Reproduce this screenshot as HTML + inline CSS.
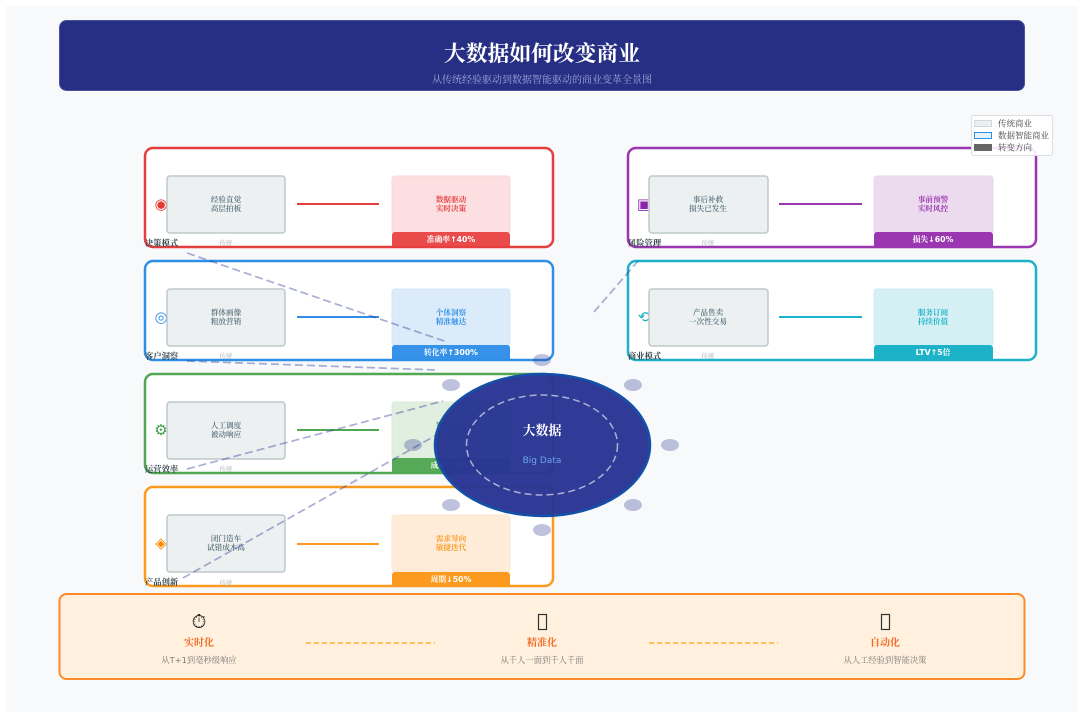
<!DOCTYPE html>
<html><head><meta charset="utf-8">
<style>
html,body{margin:0;padding:0;background:#fff;width:1084px;height:720px;overflow:hidden}
svg{display:block;filter:blur(.35px)}
text{font-family:"DejaVu Sans","Noto Serif CJK SC",serif}
.c{fill:#fff;stroke-width:2.5}
.l{fill:#ecf0f1;stroke:#bdc8cc;stroke-width:1.5}
.lt{font-size:7.6px;fill:#546e7a;text-anchor:middle;font-weight:600}
.rt{font-size:7.6px;text-anchor:middle;font-weight:700}
.b{font-size:7.8px;fill:#fff;text-anchor:middle;font-weight:700}
.h{font-size:8.3px;fill:#37474f;font-weight:700}
.tr{font-size:6.5px;fill:#a9b2b6;text-anchor:middle}
.i{font-size:15px;text-anchor:middle}
.s{fill:#283593;opacity:.3}
.d{stroke:#283593;stroke-opacity:.4;stroke-width:1.7;stroke-dasharray:8 4;fill:none}
.bi{font-size:19px;text-anchor:middle;fill:#222}
.bt{font-size:10px;text-anchor:middle;font-weight:700;fill:#ee6a24}
.bs{font-size:8.3px;text-anchor:middle;fill:#777}
</style></head><body>
<svg width="1084" height="720" viewBox="0 0 1084 720" xmlns="http://www.w3.org/2000/svg">
<rect x="6" y="6" width="1072" height="706" fill="#f8f9fb"/>
<rect x="59.5" y="20.5" width="965" height="70" rx="7" fill="#272f84" stroke="#4a52a0" stroke-width="1"/>
<text x="542" y="61" font-size="21.8" font-weight="700" fill="#fff" text-anchor="middle">大数据如何改变商业</text>
<text x="542" y="83" font-size="10" fill="#9fa8da" text-anchor="middle">从传统经验驱动到数据智能驱动的商业变革全景图</text>

<!-- red -->
<g>
<rect class="c" x="145" y="148" width="408" height="99" rx="8" stroke="#e53e3e"/>
<text class="i" x="161" y="209" fill="#e53935">◉</text>
<rect class="l" x="167" y="176" width="118" height="57" rx="3"/>
<text class="lt" x="226" y="202">经验直觉</text><text class="lt" x="226" y="211">高层拍板</text>
<line x1="297" y1="204" x2="379" y2="204" stroke="#e53e3e" stroke-width="2"/>
<rect x="392" y="176" width="118" height="57" rx="3" fill="#fcdfe0" stroke="#fbd5d6"/>
<text class="rt" x="451" y="202" fill="#e53e3e">数据驱动</text><text class="rt" x="451" y="211" fill="#e53e3e">实时决策</text>
<path d="M392 235a3 3 0 0 1 3-3h112a3 3 0 0 1 3 3v11h-118z" fill="#e94b4b"/>
<text class="b" x="451" y="242">准确率↑40%</text>
<text class="h" x="145" y="246">决策模式</text>
<text class="tr" x="226" y="245">传统</text>
</g>
<!-- blue -->
<g>
<rect class="c" x="145" y="261" width="408" height="99" rx="8" stroke="#2f8fe6"/>
<text class="i" x="161" y="322" fill="#2f8fe6">◎</text>
<rect class="l" x="167" y="289" width="118" height="57" rx="3"/>
<text class="lt" x="226" y="315">群体画像</text><text class="lt" x="226" y="324">粗放营销</text>
<line x1="297" y1="317" x2="379" y2="317" stroke="#2f8fe6" stroke-width="2"/>
<rect x="392" y="289" width="118" height="57" rx="3" fill="#dcebfa" stroke="#d2e6f9"/>
<text class="rt" x="451" y="315" fill="#2f8fe6">个体洞察</text><text class="rt" x="451" y="324" fill="#2f8fe6">精准触达</text>
<path d="M392 348a3 3 0 0 1 3-3h112a3 3 0 0 1 3 3v11h-118z" fill="#3592e8"/>
<text class="b" x="451" y="355">转化率↑300%</text>
<text class="h" x="145" y="359">客户洞察</text>
<text class="tr" x="226" y="358">传统</text>
</g>
<!-- green -->
<g>
<rect class="c" x="145" y="374" width="408" height="99" rx="8" stroke="#52a852"/>
<text class="i" x="161" y="435" fill="#43a047">⚙</text>
<rect class="l" x="167" y="402" width="118" height="57" rx="3"/>
<text class="lt" x="226" y="428">人工调度</text><text class="lt" x="226" y="437">被动响应</text>
<line x1="297" y1="430" x2="379" y2="430" stroke="#52a852" stroke-width="2"/>
<rect x="392" y="402" width="118" height="57" rx="3" fill="#e1efe1" stroke="#d8ebd8"/>
<text class="rt" x="451" y="428" fill="#43a047">智能调度</text><text class="rt" x="451" y="437" fill="#43a047">主动优化</text>
<path d="M392 461a3 3 0 0 1 3-3h112a3 3 0 0 1 3 3v11h-118z" fill="#56a956"/>
<text class="b" x="451" y="468">成本↓30%</text>
<text class="h" x="145" y="472">运营效率</text>
<text class="tr" x="226" y="471">传统</text>
</g>
<!-- orange -->
<g>
<rect class="c" x="145" y="487" width="408" height="99" rx="8" stroke="#fb9a1e"/>
<text class="i" x="161" y="548" fill="#fb8c00">◈</text>
<rect class="l" x="167" y="515" width="118" height="57" rx="3"/>
<text class="lt" x="226" y="541">闭门造车</text><text class="lt" x="226" y="550">试错成本高</text>
<line x1="297" y1="544" x2="379" y2="544" stroke="#fb9a1e" stroke-width="2"/>
<rect x="392" y="515" width="118" height="57" rx="3" fill="#feecd9" stroke="#fde7d0"/>
<text class="rt" x="451" y="541" fill="#fb9a1e">需求导向</text><text class="rt" x="451" y="550" fill="#fb9a1e">敏捷迭代</text>
<path d="M392 575a3 3 0 0 1 3-3h112a3 3 0 0 1 3 3v10h-118z" fill="#fb9a1e"/>
<text class="b" x="451" y="582">周期↓50%</text>
<text class="h" x="145" y="585">产品创新</text>
<text class="tr" x="226" y="585">传统</text>
</g>
<!-- purple -->
<g>
<rect class="c" x="628" y="148" width="408" height="99" rx="8" stroke="#9a37b0"/>
<text class="i" x="644" y="209" fill="#8e24aa">▣</text>
<rect class="l" x="649" y="176" width="119" height="57" rx="3"/>
<text class="lt" x="708" y="202">事后补救</text><text class="lt" x="708" y="211">损失已发生</text>
<line x1="779" y1="204" x2="862" y2="204" stroke="#9a37b0" stroke-width="2"/>
<rect x="874" y="176" width="119" height="57" rx="3" fill="#ecdbef" stroke="#e8d5ec"/>
<text class="rt" x="933" y="202" fill="#9a37b0">事前预警</text><text class="rt" x="933" y="211" fill="#9a37b0">实时风控</text>
<path d="M874 235a3 3 0 0 1 3-3h113a3 3 0 0 1 3 3v11h-119z" fill="#9a37b0"/>
<text class="b" x="933" y="242">损失↓60%</text>
<text class="h" x="628" y="246">风险管理</text>
<text class="tr" x="708" y="245">传统</text>
</g>
<!-- teal -->
<g>
<rect class="c" x="628" y="261" width="408" height="99" rx="8" stroke="#1cb3c8"/>
<text class="i" x="644" y="322" fill="#17b0c5">⟲</text>
<rect class="l" x="649" y="289" width="119" height="57" rx="3"/>
<text class="lt" x="708" y="315">产品售卖</text><text class="lt" x="708" y="324">一次性交易</text>
<line x1="779" y1="317" x2="862" y2="317" stroke="#1cb3c8" stroke-width="2"/>
<rect x="874" y="289" width="119" height="57" rx="3" fill="#d5f0f4" stroke="#cdedf2"/>
<text class="rt" x="933" y="315" fill="#1cb3c8">服务订阅</text><text class="rt" x="933" y="324" fill="#1cb3c8">持续价值</text>
<path d="M874 348a3 3 0 0 1 3-3h113a3 3 0 0 1 3 3v11h-119z" fill="#1cb3c8"/>
<text class="b" x="933" y="355">LTV↑5倍</text>
<text class="h" x="628" y="359">商业模式</text>
<text class="tr" x="708" y="358">传统</text>
</g>

<!-- legend -->
<rect x="971.5" y="115.5" width="81" height="40" rx="2" fill="#fff" fill-opacity=".9" stroke="#dcdfe3"/>
<rect x="974.5" y="120.5" width="17" height="6" fill="#ecf0f1" stroke="#cfd8dc"/>
<rect x="974.5" y="132.5" width="17" height="6" fill="#e3f2fd" stroke="#2f8fe6"/>
<rect x="974" y="144" width="18" height="7" fill="#666"/>
<text x="998" y="126.5" font-size="8.5" fill="#444">传统商业</text>
<text x="998" y="138.5" font-size="8.5" fill="#444">数据智能商业</text>
<text x="998" y="150.5" font-size="8.5" fill="#444">转变方向</text>

<!-- dashed -->
<line class="d" x1="187" y1="253" x2="447" y2="342"/>
<line class="d" x1="187" y1="361" x2="436" y2="370"/>
<line class="d" x1="187" y1="469" x2="443" y2="401"/>
<line class="d" x1="183" y1="578" x2="440" y2="433"/>
<line class="d" x1="594" y1="312" x2="638" y2="261"/>

<!-- satellites -->
<ellipse class="s" cx="542" cy="360" rx="9" ry="6"/>
<ellipse class="s" cx="633" cy="385" rx="9" ry="6"/>
<ellipse class="s" cx="670" cy="445" rx="9" ry="6"/>
<ellipse class="s" cx="633" cy="505" rx="9" ry="6"/>
<ellipse class="s" cx="542" cy="530" rx="9" ry="6"/>
<ellipse class="s" cx="451" cy="505" rx="9" ry="6"/>
<ellipse class="s" cx="413" cy="445" rx="9" ry="6"/>
<ellipse class="s" cx="451" cy="385" rx="9" ry="6"/>

<!-- hub -->
<ellipse cx="542.5" cy="445" rx="107.5" ry="71" fill="#283593" fill-opacity=".97" stroke="#1550a8" stroke-width="2.5"/>
<ellipse cx="542" cy="445" rx="75.5" ry="50" fill="none" stroke="#fff" stroke-opacity=".6" stroke-width="1.5" stroke-dasharray="7 4"/>
<text x="542" y="435" font-size="13" font-weight="700" fill="#fff" text-anchor="middle">大数据</text>
<text x="542" y="463" font-size="9" fill="#6ea3e6" text-anchor="middle">Big Data</text>

<!-- bottom -->
<rect x="59.5" y="594" width="965" height="85" rx="7" fill="#fff1de" stroke="#ff8a2a" stroke-width="2"/>
<text class="bi" x="199" y="628">⏱</text>
<text class="bt" x="199" y="646">实时化</text>
<text class="bs" x="199" y="663">从T+1到毫秒级响应</text>
<line x1="306" y1="643" x2="435" y2="643" stroke="#ffc05a" stroke-width="2" stroke-dasharray="5 3"/>
<rect x="538.5" y="614.5" width="8" height="15" fill="none" stroke="#333" stroke-width="1.2"/>
<text class="bt" x="542" y="646">精准化</text>
<text class="bs" x="542" y="663">从千人一面到千人千面</text>
<line x1="649" y1="643" x2="778" y2="643" stroke="#ffc05a" stroke-width="2" stroke-dasharray="5 3"/>
<rect x="881.5" y="614.5" width="8" height="15" fill="none" stroke="#333" stroke-width="1.2"/>
<text class="bt" x="885" y="646">自动化</text>
<text class="bs" x="885" y="663">从人工经验到智能决策</text>
</svg>
</body></html>
